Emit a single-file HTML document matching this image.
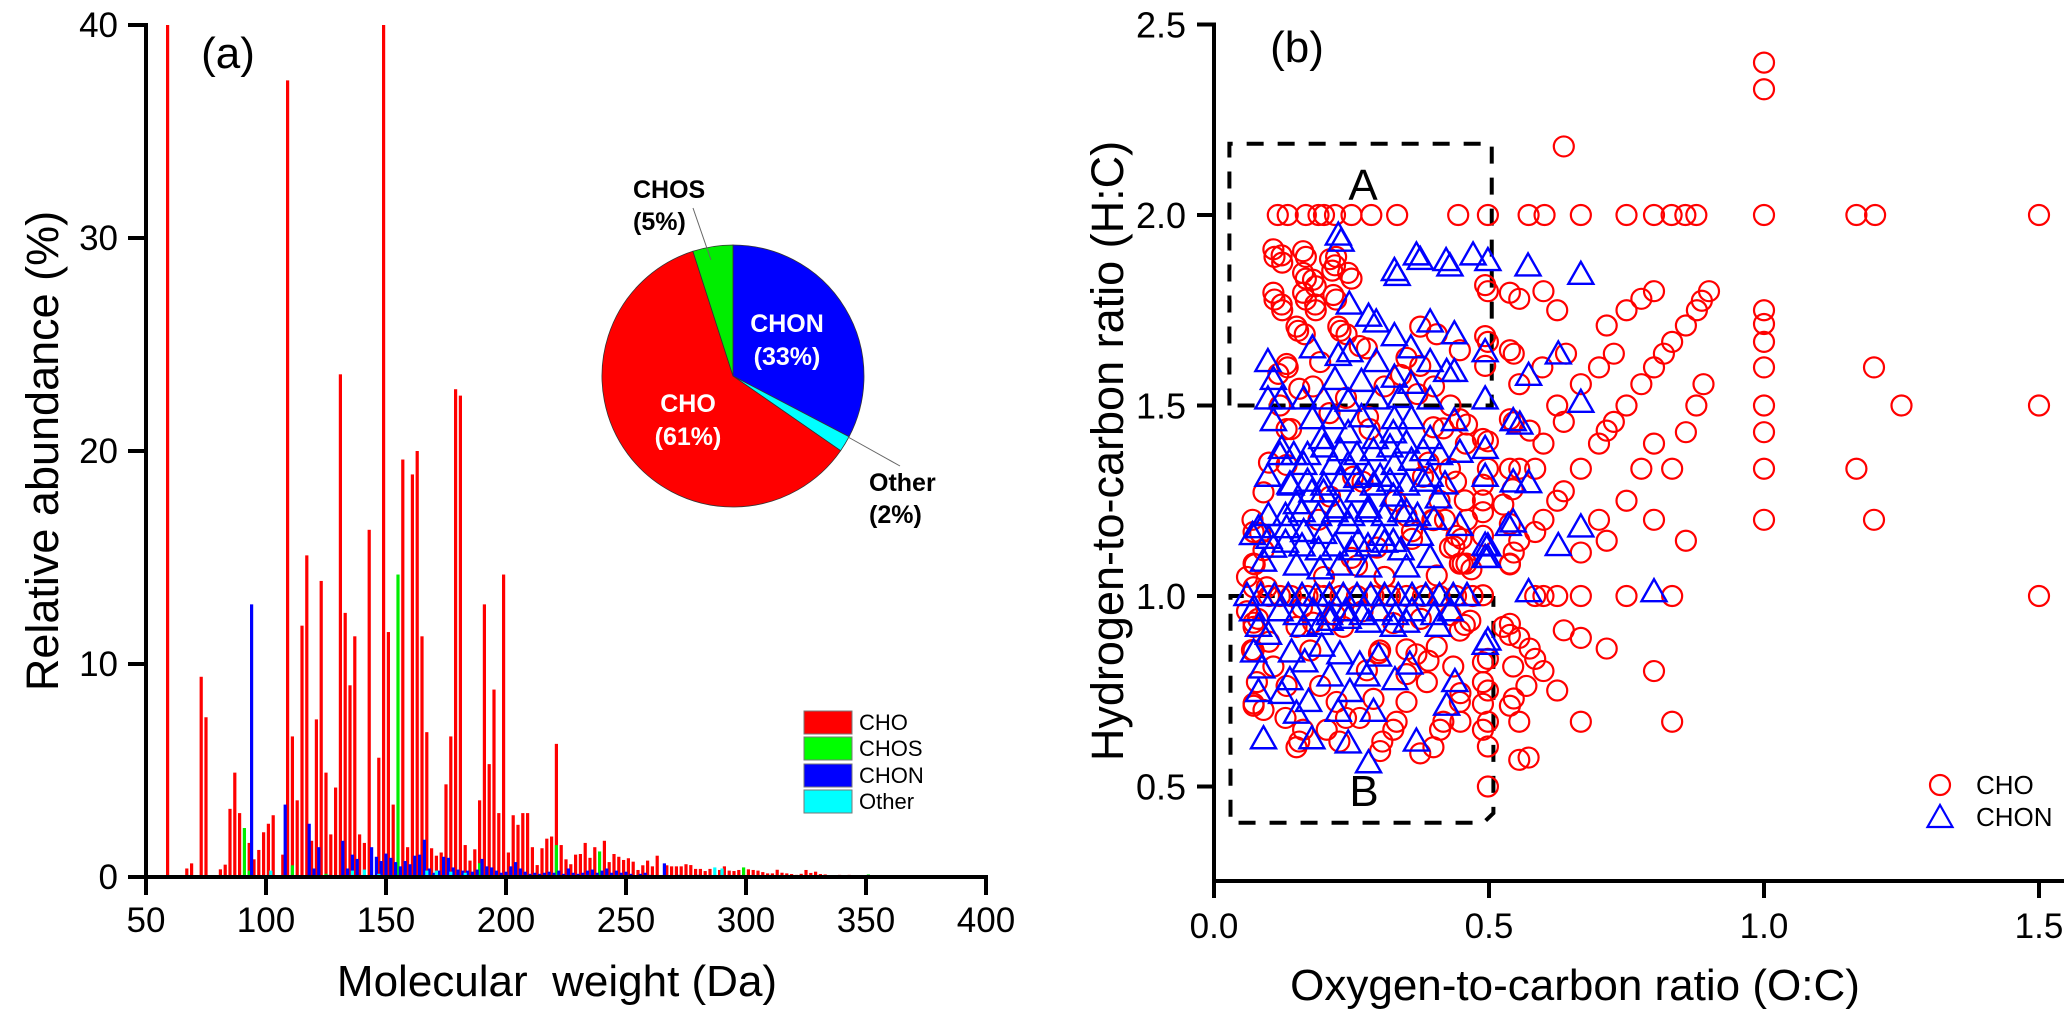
<!DOCTYPE html>
<html><head><meta charset="utf-8"><title>Mass spectrum and van Krevelen diagram</title>
<style>
html,body{margin:0;padding:0;background:#fff;}
svg{display:block;font-family:"Liberation Sans",Arial,sans-serif;}
text{white-space:pre;}
</style></head>
<body>
<svg id="fig" width="2067" height="1015" viewBox="0 0 2067 1015" xmlns="http://www.w3.org/2000/svg">
<g id="panelA"></g>
<g id="panelB"></g>
</svg>
<script>
// ---------- Panel (a) data ----------
const choDa  = [59,67,69,73,75,81,83,85,87,89,93,95,97,99,101,103,107,109,111,113,115,117,119,121,123,125,127,129,131,133,135,137,139,141,143,147,149,151,153,157,159,161,163,165,167,169,171,173,175,177,179,181,183,185,187,189,191,193,195,197,199,201,203,205,207,209,211,213,215,217,219,221,223,225,227,229,231,233,235,237,241,243,245,247,249,251,253,255,257,259,261,263,267,269,271,273,275,277,279,281,283,285,289,291,293,295,297,301,303,305,307,309,311,313,315,317,319,321,323,325,327,329,331,333,339,343];
const choVal = [40,0.4,0.64,9.4,7.5,0.36,0.58,3.2,4.9,3.0,1.6,0.83,1.27,2.1,2.5,2.9,1.05,37.4,6.6,3.6,11.8,15.1,1.7,7.4,13.9,4.9,2.0,4.2,23.6,12.4,9.0,11.3,2.0,1.6,16.3,5.6,40,11.5,3.4,19.6,1.4,18.9,20.0,11.3,6.8,1.35,1.0,1.15,4.35,6.6,22.9,22.6,1.5,0.77,1.3,3.6,12.8,5.3,8.8,3.0,14.2,1.15,2.9,2.45,3.0,3.0,1.4,0.56,1.35,1.8,1.9,6.25,1.5,0.83,0.6,1.05,1.08,1.6,0.9,1.4,1.7,0.7,1.08,0.95,0.8,0.88,0.72,0.33,0.55,0.77,0.5,1.0,0.55,0.5,0.5,0.5,0.6,0.56,0.38,0.38,0.28,0.38,0.33,0.5,0.3,0.28,0.33,0.36,0.33,0.3,0.23,0.17,0.17,0.34,0.2,0.17,0.14,0.1,0.15,0.33,0.19,0.25,0.14,0.12,0.1,0.1];
const chosDa  = [91,93,111,125,155,189,221,239,299,351];
const chosVal = [2.3,0.3,0.55,0.15,14.2,0.65,1.5,1.2,0.45,0.12];
const chonDa  = [94,108,118,120,122,126,132,134,136,138,144,146,148,150,152,154,156,158,160,162,164,166,168,170,172,174,176,178,180,182,184,186,188,190,192,194,196,198,200,202,204,206,208,210,212,214,216,218,220,222,224,226,228,230,232,234,236,238,240,242,244,246,248,250,252,256,258,260,266,272,280];
const chonVal = [12.8,3.4,2.5,0.4,1.4,0.1,1.7,0.4,1.05,0.85,1.4,0.95,0.75,1.1,0.9,0.7,0.5,0.75,0.6,1.0,1.05,1.75,0.4,0.2,0.3,0.95,0.9,0.45,0.35,0.3,0.3,0.25,0.35,0.85,0.5,0.45,0.3,0.2,0.25,0.5,0.7,0.4,0.25,0.15,0.2,0.15,0.2,0.25,0.2,0.3,0.15,0.4,0.2,0.15,0.2,0.3,0.35,0.2,0.3,0.4,0.2,0.3,0.2,0.25,0.15,0.15,0.2,0.1,0.64,0.1,0.1];
const otherDa  = [102,136,141,147,167,171,177,183,287,290,362];
const otherVal = [0.3,0.3,0.35,0.15,0.3,0.3,0.25,0.2,0.45,0.4,0.08];
const xTicksA = [50,100,150,200,250,300,350,400];
const yTicksA = [0,10,20,30,40];
const pieLabels = ["CHON","Other","CHO","CHOS"];
const pieValues = [33,2,61,5];
const legendA = ["CHO","CHOS","CHON","Other"];

// ---------- Panel (b) data ----------
const choOC = [1.0,1.0,0.636,
 0.116,0.134,0.167,0.19,0.2,0.22,0.25,0.286,0.333,0.444,0.498,0.572,0.601,0.667,0.75,0.8,0.832,0.857,0.877,1.0,1.168,1.202,1.5,
 0.498,0.555,0.599,0.624,0.714,0.75,0.777,0.8,0.9,0.887,0.878,0.858,0.833,0.818,0.8,0.777,0.75,0.727,0.714,0.7,0.727,0.7,0.667,0.624,0.636,0.599,0.574,0.545,0.555,0.545,0.597,0.498,0.64,0.89,0.877,0.858,0.8,
 1,1,1,1,1,1,1,1,1.2,1.25,1.5,1.168,1.2,1.5,
 0.667,0.777,0.833,0.75,0.8,0.858,0.7,0.714,0.667,0.636,0.624,0.599,0.584,0.555,0.545,0.538,0.555,0.584,0.543,0.498,0.498,
 0.584,0.599,0.624,0.667,0.75,0.833,
 0.538,0.555,0.574,0.584,0.599,0.624,0.636,0.667,0.714,0.8,0.545,0.555,0.667,0.833,0.572,0.498,0.498,0.498,0.498,0.498,0.466,0.448,0.417,0.448,0.399,0.332,0.306,0.228,0.155,0.072,
 0.108,0.123,0.162,0.162,0.18,0.211,0.22,0.244,0.108,0.123,0.162,0.184,0.217,0.15,0.165,0.226,0.241,0.265,0.132,0.117,0.193,0.278,0.375,0.405,0.447,0.375,0.35,0.493,0.493,0.493,0.538,0.538,0.447,0.399,0.489,0.538,0.132,0.283,0.429,0.489,0.538,0.09,0.132,0.38,0.456,0.489,0.489,0.526,0.538,0.399,0.441,0.429,0.459,0.447,0.405,0.538,0.489,0.072,0.072,0.096,0.296,0.35,0.211,0.253,0.072,0.489,
 0.072,0.15,0.235,0.326,0.376,0.456,0.447,0.526,0.538,0.489,0.072,0.078,0.09,0.072,0.132,0.193,0.278,0.35,0.387,0.405,0.435,0.447,0.411,0.375,0.15,0.205,0.223,0.302,0.326,0.489,0.489,0.489,0.538,0.568,0.35,0.162,0.265,0.108,0.175,0.302,0.368,0.544,0.555,
 0.069,0.072,0.074,0.084,0.153,0.23,0.11,0.124,0.167,0.185,0.222,0.11,0.124,0.167,0.167,0.185,0.215,0.25,0.222,0.134,0.155,0.14,0.397,0.437,0.452,0.468,0.458,0.417,
 0.1,0.12,0.14,0.17,0.2,0.23,0.26,0.29,0.32,0.35,0.38,0.41,0.44,0.47,0.25,0.31,0.36,0.19,0.27,0.33,0.39,0.42,0.22,0.3,
 0.06,0.08,0.06,0.09,0.07,0.1,0.12,0.18,0.21,0.24,0.28,0.31,0.34,0.37,0.4,0.43,0.46,0.44,0.41,0.46,0.36,0.31,0.26,0.2,0.16,0.1,0.13,0.24,0.29,0.35,0.39,0.43,0.45,0.18,0.27];
const choHC = [2.4,2.33,2.18,
 2,2,2,2,2,2,2,2,2,2,2,2,2,2,2,2,2,2,2,2,2,2,2,
 1.8,1.78,1.8,1.75,1.71,1.75,1.78,1.8,1.8,1.775,1.75,1.71,1.667,1.636,1.6,1.556,1.5,1.457,1.434,1.4,1.636,1.6,1.556,1.5,1.457,1.4,1.434,1.456,1.556,1.636,1.6,1.667,1.636,1.556,1.5,1.43,1.4,
 1.75,1.714,1.667,1.6,1.5,1.43,1.334,1.2,1.6,1.5,1.5,1.334,1.2,1.0,
 1.334,1.334,1.334,1.25,1.2,1.145,1.2,1.145,1.114,1.275,1.25,1.2,1.168,1.145,1.114,1.083,1.334,1.334,1.28,1.406,1.334,
 1,1,1,1,1,1,
 0.927,0.89,0.862,0.835,0.803,0.752,0.91,0.89,0.862,0.803,0.731,0.67,0.67,0.67,0.576,0.605,0.67,0.5,0.752,0.835,0.935,0.745,0.67,0.67,0.603,0.67,0.618,0.618,0.618,0.718,
 1.91,1.894,1.905,1.848,1.83,1.884,1.868,1.848,1.796,1.765,1.796,1.765,1.79,1.707,1.687,1.707,1.687,1.656,1.609,1.583,1.614,1.65,1.707,1.687,1.645,1.604,1.625,1.816,1.682,1.604,1.796,1.645,1.464,1.443,1.412,1.464,1.438,1.438,1.334,1.292,1.334,1.272,1.344,1.313,1.251,1.251,1.22,1.24,1.189,1.199,1.158,1.127,1.085,1.085,1.054,1.085,1.158,1.168,1.085,1.023,1.127,1.21,1.261,1.313,1.023,1.002,
 0.919,0.919,0.919,0.929,0.94,0.924,0.909,0.919,0.898,0.826,0.857,0.774,0.701,0.712,0.764,0.764,0.805,0.795,0.774,0.867,0.815,0.722,0.649,0.587,0.603,0.649,0.722,0.593,0.649,0.774,0.717,0.649,0.712,0.764,0.722,0.649,0.68,0.815,0.857,0.857,0.847,0.815,0.57,
 0.858,0.93,1.083,1.165,1.696,1.696,1.778,1.75,1.778,1.75,1.778,1.89,1.875,1.89,1.833,1.813,1.854,1.833,1.89,1.6,1.544,1.438,1.2,1.13,1.085,1.07,1.4,1.44,
 1.0,1.0,1.0,1.0,1.0,1.0,1.0,1.0,1.0,1.0,1.0,1.0,1.0,1.0,1.1,1.05,1.15,1.2,1.3,1.25,1.35,1.2,0.95,0.85,
 0.96,0.94,1.05,1.12,1.2,1.35,1.5,1.55,1.48,1.52,1.47,1.55,1.58,1.53,1.55,1.5,1.45,1.3,1.25,1.2,1.17,1.05,1.08,1.05,0.97,0.88,0.68,0.68,0.73,0.86,0.83,0.95,1.15,0.93,0.96];
const chonOC = [0.226,0.368,0.422,0.471,0.328,0.246,0.281,0.295,0.393,0.437,0.328,0.358,0.179,0.226,0.247,0.098,0.295,0.393,0.437,0.108,0.22,0.268,0.328,0.358,0.423,0.493,
 0.098,0.123,0.163,0.199,0.244,0.296,0.338,0.393,0.493,0.108,0.179,0.217,0.268,0.328,0.359,0.437,0.544,0.123,0.196,0.244,0.293,0.326,0.393,0.447,0.493,
 0.098,0.138,0.163,0.217,0.244,0.281,0.302,0.328,0.359,0.393,0.42,0.493,0.544,0.15,0.178,0.199,0.226,0.262,0.281,0.326,0.35,0.408,0.447,
 0.081,0.099,0.132,0.163,0.199,0.244,0.262,0.305,0.326,0.375,0.535,0.09,0.108,0.15,0.193,0.229,0.281,0.35,0.393,0.493,0.493,
 0.06,0.085,0.11,0.135,0.16,0.185,0.21,0.235,0.26,0.285,0.31,0.335,0.36,0.385,0.41,0.435,0.46,
 0.081,0.099,0.163,0.193,0.211,0.244,0.281,0.326,0.35,0.408,0.072,0.141,0.196,0.229,0.265,0.299,0.356,0.493,0.087,0.165,0.211,0.278,0.329,0.138,0.081,0.123,0.247,0.438,0.172,0.226,0.15,0.29,0.423,0.09,0.178,0.244,0.368,0.281,
 0.572,0.544,0.626,0.667,0.572,0.80,0.556,0.667,0.572,0.626,0.667,0.571,0.498,0.429,0.375,0.333,0.231,0.498,0.498,0.498,
 0.12,0.145,0.17,0.2,0.23,0.26,0.29,0.32,0.35,0.38,0.41,0.14,0.17,0.2,0.23,0.26,0.29,0.32,0.35,0.38,0.13,0.16,0.19,0.22,0.25,0.28,0.31,0.34,0.37,0.4,0.07,0.1,0.13,0.16,0.19,0.22,0.25,0.28,0.31,0.34,0.07,0.12,0.15,0.18,0.21,0.24,0.27,0.3,0.33,0.36,0.4,0.43];
const chonHC = [1.946,1.894,1.879,1.894,1.853,1.765,1.733,1.718,1.718,1.687,1.682,1.65,1.65,1.63,1.64,1.614,1.614,1.614,1.588,1.567,1.567,1.562,1.573,1.557,1.588,1.64,
 1.516,1.516,1.516,1.516,1.51,1.516,1.52,1.516,1.516,1.459,1.464,1.464,1.469,1.464,1.464,1.459,1.459,1.386,1.412,1.427,1.412,1.427,1.412,1.376,1.386,
 1.313,1.293,1.344,1.344,1.344,1.318,1.313,1.344,1.355,1.313,1.293,1.313,1.298,1.241,1.272,1.272,1.23,1.272,1.23,1.261,1.22,1.256,1.184,
 1.178,1.21,1.178,1.168,1.163,1.189,1.142,1.158,1.142,1.158,1.184,1.09,1.127,1.08,1.07,1.08,1.075,1.075,1.1,1.1,1.132,
 1.0,1.0,1.0,1.0,1.0,1.0,1.0,1.0,1.0,1.0,1.0,1.0,1.0,1.0,1.0,1.0,1.0,
 0.919,0.898,0.919,0.924,0.935,0.94,0.93,0.919,0.93,0.919,0.852,0.852,0.867,0.847,0.82,0.841,0.82,0.872,0.81,0.826,0.789,0.789,0.779,0.779,0.748,0.743,0.748,0.774,0.722,0.696,0.691,0.696,0.712,0.624,0.624,0.613,0.618,0.561,
 1.296,1.193,1.131,1.18,1.01,1.01,1.45,1.507,1.578,1.634,1.843,1.865,1.879,1.865,1.882,1.84,1.93,0.883,1.13,1.1,
 1.37,1.37,1.37,1.39,1.38,1.37,1.38,1.39,1.4,1.38,1.37,1.29,1.3,1.29,1.3,1.31,1.29,1.3,1.29,1.3,1.21,1.22,1.21,1.22,1.21,1.22,1.21,1.22,1.21,1.2,1.16,1.15,1.14,1.13,1.12,1.13,1.12,1.13,1.14,1.12,0.96,0.96,0.95,0.96,0.95,0.96,0.95,0.96,0.95,0.96,0.95,0.96];
const xTicksB = [0.0,0.5,1.0,1.5];
const yTicksB = [0.5,1.0,1.5,2.0,2.5];
const legendB = ["CHO","CHON"];

// ---------- helpers ----------
const NS = "http://www.w3.org/2000/svg";
function mk(tag, attrs, parent){
  const e = document.createElementNS(NS, tag);
  for (const k in attrs) e.setAttribute(k, attrs[k]);
  parent.appendChild(e);
  return e;
}
function txt(parent, x, y, s, size, anchor, extra){
  const t = mk("text", Object.assign({x:x, y:y, "font-size":size, "text-anchor":anchor||"middle", fill:"#000"}, extra||{}), parent);
  t.textContent = s;
  return t;
}

// ---------- Panel (a) ----------
const A = document.getElementById("panelA");
const axA = {x0:146, y0:877, pxPerDa:2.4, pxPerPct:21.3};
function xA(d){ return axA.x0 + (d - 50) * axA.pxPerDa; }
function yA(v){ return axA.y0 - Math.min(v, 40) * axA.pxPerPct; }

function drawBars(das, vals, color, name){
  const g = mk("g", {}, A);
  
  
  for (let i = 0; i < das.length; i++){
    const r = mk("rect", {x: xA(das[i]) - 1.6, y: yA(vals[i]), width: 3.2, height: axA.y0 - yA(vals[i]), fill: color}, g);
    
    
  }
}
drawBars(choDa, choVal, "#ff0000", "cho");
drawBars(chosDa, chosVal, "#00ee00", "chos");
drawBars(chonDa, chonVal, "#0000ff", "chon");
drawBars(otherDa, otherVal, "#00ffff", "other");

const axesA = mk("g", {stroke:"#000", "stroke-width":4, fill:"none"}, A);


mk("line", {x1:146, y1:yA(40)-2, x2:146, y2:879}, axesA);
mk("line", {x1:128, y1:877, x2:xA(400)+2, y2:877}, axesA);
for (const t of xTicksA){
  mk("line", {x1:xA(t), y1:877, x2:xA(t), y2:895}, axesA);
  const l = txt(A, xA(t), 932, String(t), 35);
  
  
}
for (const t of yTicksA){
  mk("line", {x1:128, y1:yA(t), x2:146, y2:yA(t)}, axesA);
  const l = txt(A, 118, yA(t) + 12, String(t), 35, "end");
  
  
}
const xtA = txt(A, 557, 996, "Molecular  weight (Da)", 44);


const ytA = txt(A, 0, 0, "Relative abundance (%)", 45, "middle", {transform:"translate(58,451) rotate(-90)"});


const plA = txt(A, 228, 68, "(a)", 44);



const legColors = ["#ff0000","#00ff00","#0000ff","#00ffff"];
const legY = [711, 737, 764, 790];
const lgA = mk("g", {}, A);


for (let i = 0; i < legendA.length; i++){
  const r = mk("rect", {x:804, y:legY[i], width:48, height:23, fill:legColors[i], stroke:"#777", "stroke-width":1}, lgA);
  
  
  const t = txt(lgA, 859, legY[i] + 19, legendA[i], 22, "start");
  
  
}

const pie = mk("g", {}, A);


const pcx = 733, pcy = 376, pr = 131;
const pieColors = {CHON:"#0000ff", Other:"#00ffff", CHO:"#ff0000", CHOS:"#00ee00"};
const pieTotal = pieValues.reduce((a,b)=>a+b, 0);
let ang = 0;
for (let i = 0; i < pieValues.length; i++){
  const a0 = ang, a1 = ang + pieValues[i] / pieTotal * 2 * Math.PI;
  ang = a1;
  const x0 = pcx + pr*Math.sin(a0), y0 = pcy - pr*Math.cos(a0);
  const x1 = pcx + pr*Math.sin(a1), y1 = pcy - pr*Math.cos(a1);
  const large = (a1 - a0) > Math.PI ? 1 : 0;
  const p = mk("path", {d:`M${pcx},${pcy} L${x0},${y0} A${pr},${pr} 0 ${large} 1 ${x1},${y1} Z`, fill:pieColors[pieLabels[i]], stroke:"#333", "stroke-width":0.8}, pie);
  
  
}
mk("line", {x1:693, y1:208, x2:711, y2:260, stroke:"#666", "stroke-width":1}, pie);
mk("line", {x1:848, y1:437, x2:900, y2:466, stroke:"#666", "stroke-width":1}, pie);
const pl = [
  ["CHON", 787, 332, "#fff", "middle"], ["(" + pieValues[0] + "%)", 787, 365, "#fff", "middle"],
  ["CHO", 688, 412, "#fff", "middle"], ["(" + pieValues[2] + "%)", 688, 445, "#fff", "middle"],
  ["CHOS", 633, 198, "#000", "start"], ["(" + pieValues[3] + "%)", 633, 230, "#000", "start"],
  ["Other", 869, 491, "#000", "start"], ["(" + pieValues[1] + "%)", 869, 523, "#000", "start"]
];
for (const q of pl){
  const t = txt(pie, q[1], q[2], q[0], 25, q[4], {"font-weight":"bold", fill:q[3]});
  
  
}

// ---------- Panel (b) ----------
const B = document.getElementById("panelB");
const axB = {x0:1214, pxPerOC:550, y2:215, pxPerHC:381};
function xB(v){ return axB.x0 + v * axB.pxPerOC; }
function yB(v){ return axB.y2 + (2.0 - v) * axB.pxPerHC; }

const boxes = mk("g", {stroke:"#000", "stroke-width":4, fill:"none", "stroke-dasharray":"17,14"}, B);


const bA = mk("path", {d:`M${xB(0.028)},${yB(1.5)} L${xB(0.028)},${yB(2.187)} L${xB(0.505)},${yB(2.187)} L${xB(0.505)},${yB(1.5)} Z`}, boxes);


const bB = mk("path", {d:`M${xB(0.505)},${yB(1.0)} L${xB(0.03)},${yB(1.0)} L${xB(0.03)},${yB(0.405)} L${xB(0.49)},${yB(0.405)} L${xB(0.508)},${yB(0.43)} L${xB(0.508)},${yB(1.0)}`}, boxes);



const gC = mk("g", {stroke:"#ff0000", "stroke-width":2.2, fill:"none"}, B);


for (let i = 0; i < choOC.length; i++){
  const c = mk("circle", {cx:xB(choOC[i]), cy:yB(choHC[i]), r:10}, gC);
  
  
}
function triPath(cx, cy){ return `M${cx},${cy-13} L${cx+12.5},${cy+9} L${cx-12.5},${cy+9} Z`; }
const gT = mk("g", {stroke:"#0000ff", "stroke-width":2.4, fill:"none"}, B);


for (let i = 0; i < chonOC.length; i++){
  const p = mk("path", {d:triPath(xB(chonOC[i]), yB(chonHC[i]))}, gT);
  
  
}

const axesB = mk("g", {stroke:"#000", "stroke-width":4, fill:"none"}, B);


mk("line", {x1:1214, y1:yB(2.5)-2, x2:1214, y2:883}, axesB);
mk("line", {x1:1212, y1:881, x2:2064, y2:881}, axesB);
for (const t of xTicksB){
  mk("line", {x1:xB(t), y1:881, x2:xB(t), y2:898}, axesB);
  const l = txt(B, xB(t), 938, t.toFixed(1), 35);
  
  
}
for (const t of yTicksB){
  mk("line", {x1:1197, y1:yB(t), x2:1214, y2:yB(t)}, axesB);
  const l = txt(B, 1186, yB(t) + 13, t.toFixed(1), 36, "end");
  
  
}
const xtB = txt(B, 1575, 1000, "Oxygen-to-carbon ratio (O:C)", 44);


const ytB = txt(B, 0, 0, "Hydrogen-to-carbon ratio (H:C)", 45, "middle", {transform:"translate(1123,451) rotate(-90)"});


const plB = txt(B, 1297, 62, "(b)", 44);


const lA = txt(B, 1363, 200, "A", 44);


const lB = txt(B, 1364, 806, "B", 44);



const lgB = mk("g", {}, B);


const lc = mk("circle", {cx:1940, cy:785, r:10, stroke:"#ff0000", "stroke-width":2.2, fill:"none"}, lgB);


const lt = mk("path", {d:triPath(1940, 818), stroke:"#0000ff", "stroke-width":2.2, fill:"none"}, lgB);


const le1 = txt(lgB, 1976, 794, legendB[0], 26, "start");


const le2 = txt(lgB, 1976, 826, legendB[1], 26, "start");


</script>
</body></html>
